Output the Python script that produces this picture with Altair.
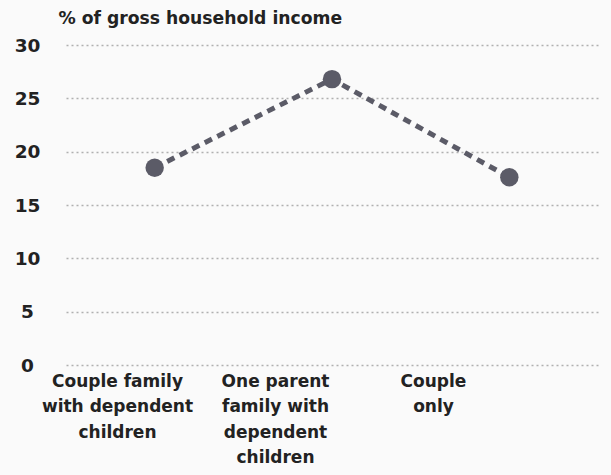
import altair as alt
import pandas as pd

categories = [
    "Couple family with dependent children",
    "One parent family with dependent children",
    "Couple only",
]
label_lines = [
    ["Couple family", "with dependent", "children"],
    ["One parent", "family with", "dependent", "children"],
    ["Couple", "only"],
]
values = [18.5, 26.8, 17.6]
y_ticks = [0, 5, 10, 15, 20, 25, 30]

df = pd.DataFrame({"category": categories, "value": values})

label_expr = ""
for cat, lines in zip(categories, label_lines):
    arr = "[" + ",".join("'" + l + "'" for l in lines) + "]"
    label_expr += f"datum.value == '{cat}' ? {arr} : "
label_expr += "datum.label"

FONT = "DejaVu Sans"
COLOR = "#5b5b67"
TEXT = "#222222"

y = alt.Y(
    "value:Q",
    scale=alt.Scale(domain=[0, 30], nice=False),
    axis=alt.Axis(
        values=y_ticks,
        title="% of gross household income",
        titleAngle=0,
        titleX=-4,
        titleY=-22,
        titleAlign="left",
        titleBaseline="alphabetic",
        titleFont=FONT,
        titleFontSize=17.2,
        titleFontWeight="bold",
        titleColor=TEXT,
        labelFont=FONT,
        labelFontSize=18.5,
        labelFontWeight="bold",
        labelColor=TEXT,
        labelAlign="center",
        labelPadding=35,
        ticks=False,
        tickSize=0,
        domain=False,
        grid=True,
        gridColor="#b0b0b0",
        gridDash=[2, 3],
        gridWidth=1.6,
    ),
)

x_points = alt.X(
    "category:N",
    sort=categories,
    scale=alt.Scale(range=[4, 536], paddingInner=0, paddingOuter=0),
    axis=None,
)

x_labels = alt.X(
    "category:N",
    sort=categories,
    scale=alt.Scale(range=[-24, 450], paddingInner=0, paddingOuter=0),
    axis=alt.Axis(
        orient="bottom",
        title=None,
        labelAngle=0,
        labelExpr=label_expr,
        labelFont=FONT,
        labelFontSize=17,
        labelFontWeight="bold",
        labelColor=TEXT,
        labelLineHeight=25.5,
        labelPadding=8,
        labelBaseline="top",
        labelAlign="center",
        ticks=False,
        domain=False,
        grid=False,
    ),
)

base = alt.Chart(df)
line = base.mark_line(color=COLOR, strokeWidth=5, strokeDash=[8, 6]).encode(x=x_points, y=y)
pts = base.mark_circle(color=COLOR, size=340, opacity=1).encode(x=x_points, y=y)
axis_layer = base.mark_point(opacity=0).encode(x=x_labels, y=y)

chart = (
    alt.layer(line, pts, axis_layer)
    .resolve_scale(x="independent")
    .properties(
        width=538,
        height=320,
        autosize=alt.AutoSizeParams(type="none"),
        padding={"left": 62, "top": 45, "right": 11, "bottom": 110},
        background="#fafafa",
    )
    .configure_view(stroke=None)
)

chart.save("out.html", embed_options={"renderer": "svg", "actions": False})
